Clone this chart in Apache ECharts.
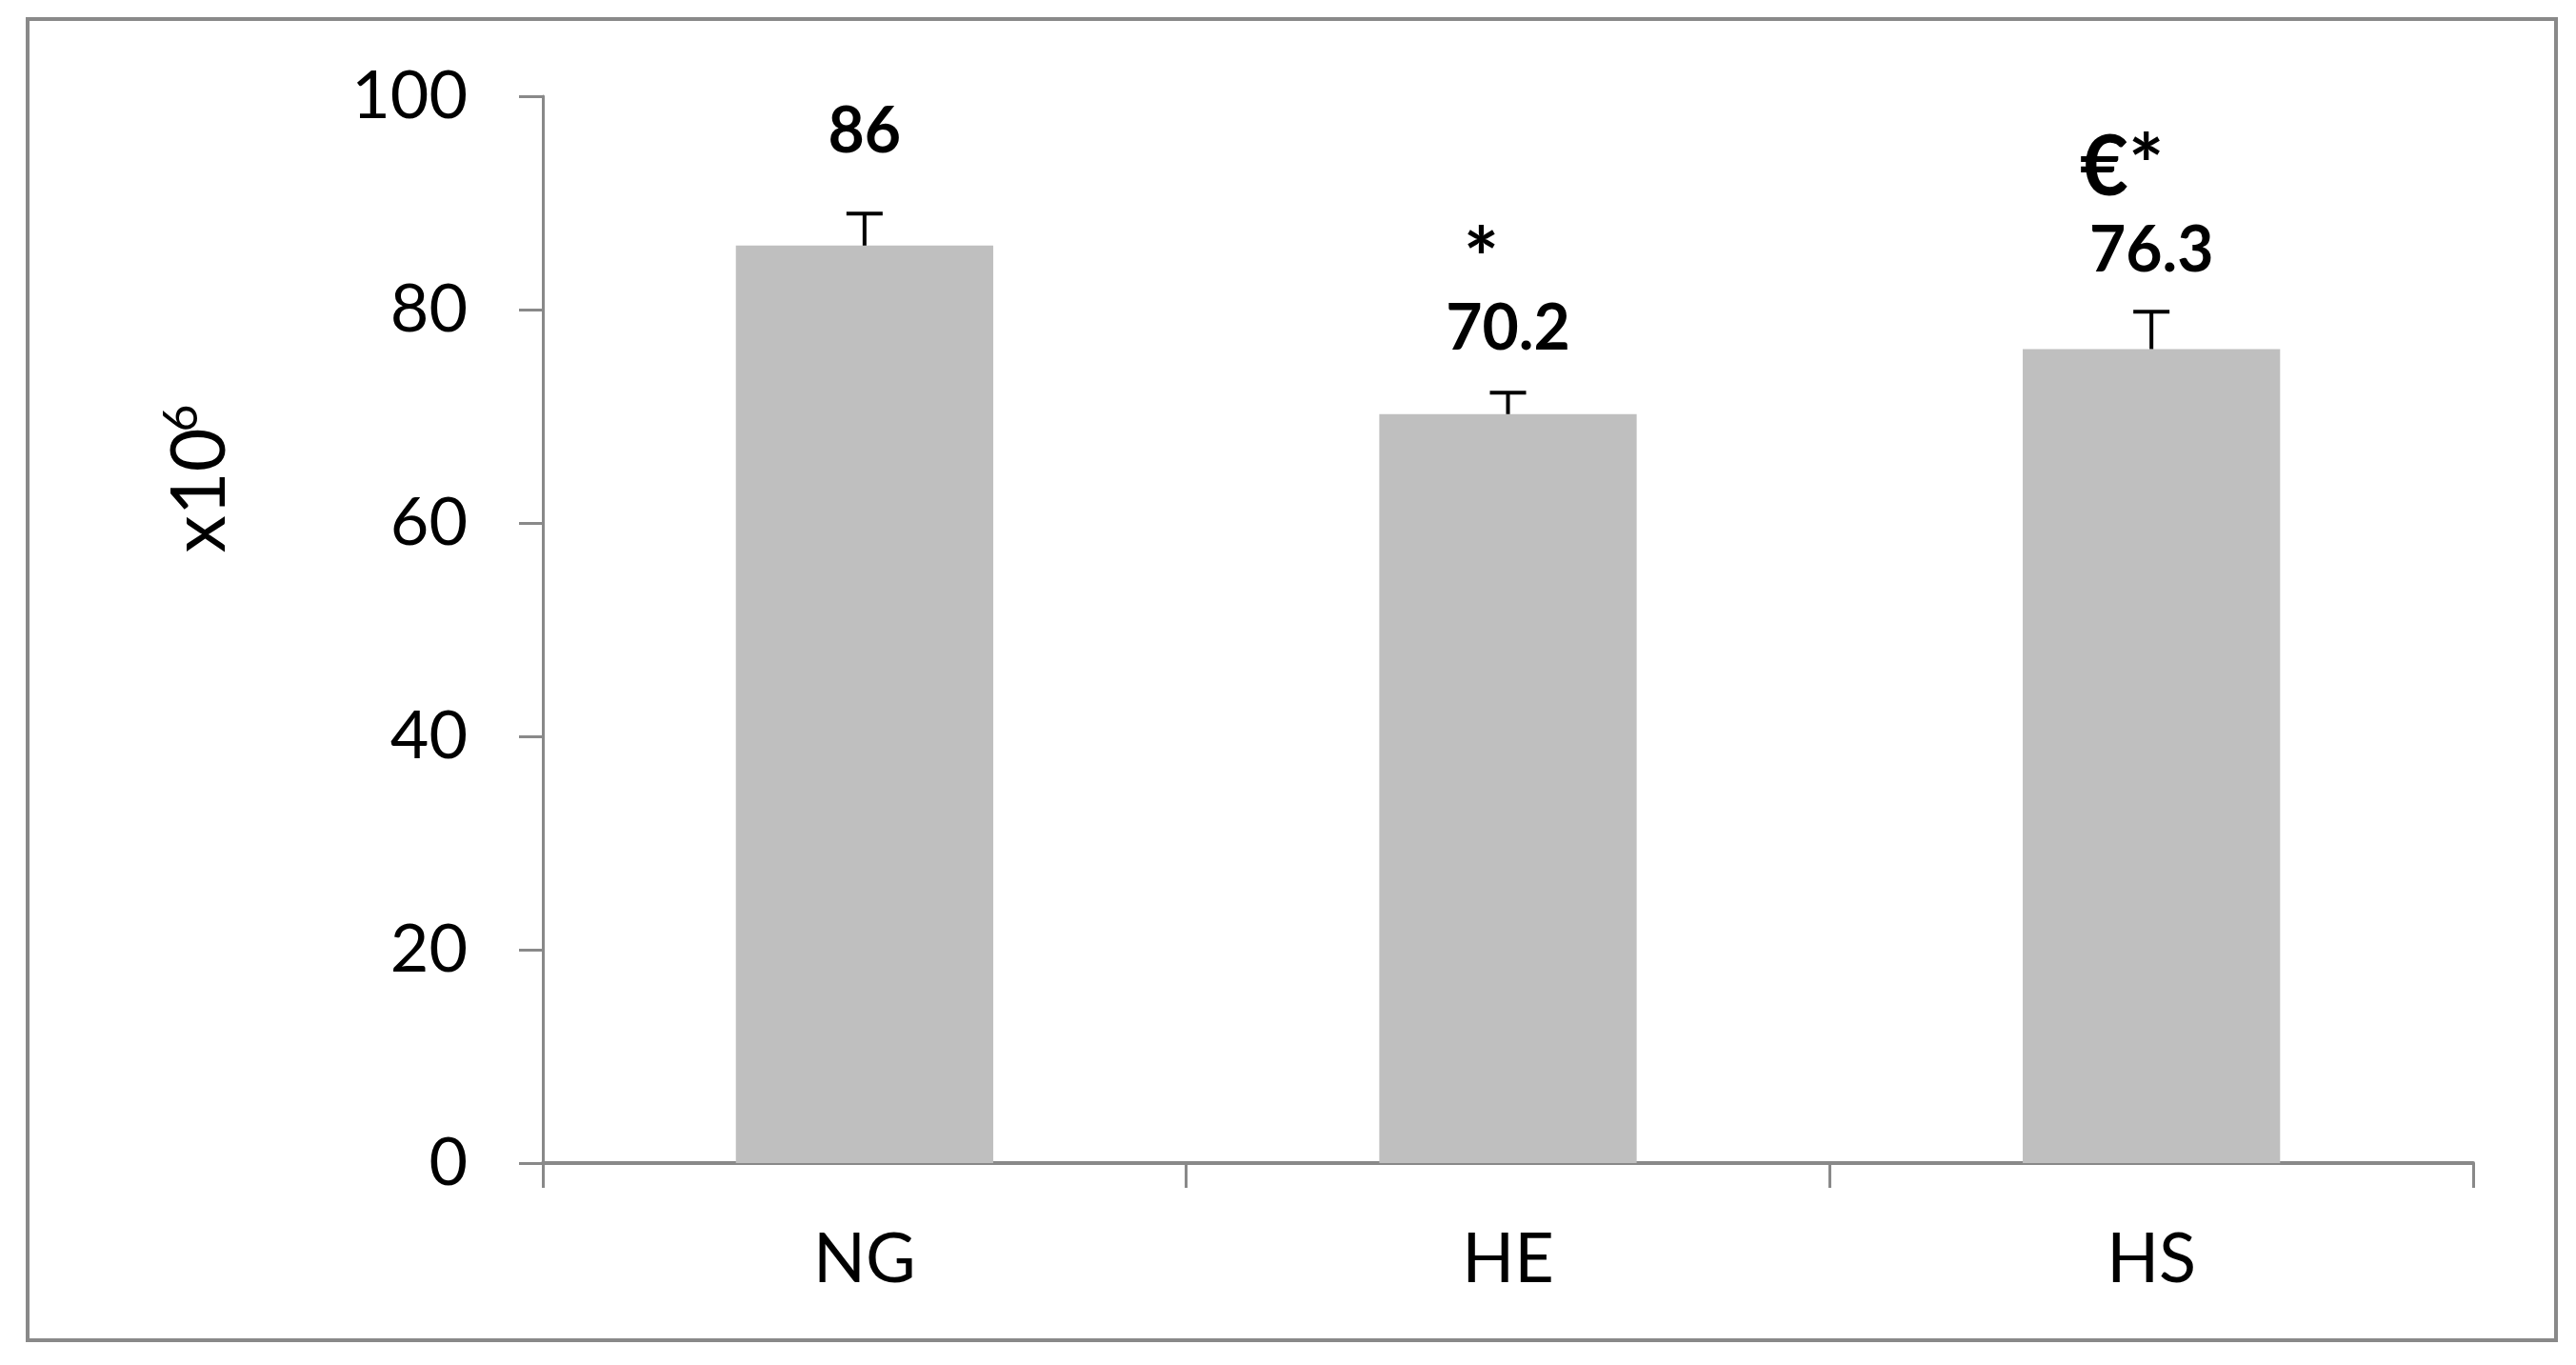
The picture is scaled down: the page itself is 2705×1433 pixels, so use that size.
<!DOCTYPE html>
<html>
<head>
<meta charset="utf-8">
<script src="https://cdn.jsdelivr.net/npm/echarts@6/dist/echarts.min.js"></script>
<style>
  html, body { margin: 0; padding: 0; background: #fff; }
  #chart { width: 2705px; height: 1433px; }
</style>
</head>
<body>
<div id="chart"></div>
<script>
// data
const groups = ['NG', 'HE', 'HS'];
const means = [86, 70.2, 76.3];
const errors = [3.0, 2.0, 3.5];
const marks = ['', '*', '€*'];
const yTicks = [0, 20, 40, 60, 80, 100];

// label placement (px offsets, tuned to the figure)
const valueOffsets = [[0, -86], [0, -56], [0, -70]];
const markOffsets = [[0, 0], [-28, -116], [-31, -146]];
const markSizes = [88, 88, 88];

const grey = '#898989';
const font = 'Lato, "Open Sans", sans-serif';

const chart = echarts.init(document.getElementById('chart'));

chart.setOption({
    animation: false,
    backgroundColor: '#fff',
    grid: { left: 570, right: 108, top: 101, bottom: 212 },
    xAxis: {
        type: 'category',
        data: groups,
        axisLine: { lineStyle: { color: grey, width: 4 } },
        axisTick: { show: true, length: 26, lineStyle: { color: grey, width: 3 } },
        axisLabel: { color: '#000', fontFamily: font, fontSize: 72, margin: 66 }
    },
    yAxis: {
        type: 'value',
        min: yTicks[0],
        max: yTicks[yTicks.length - 1],
        interval: 20,
        splitLine: { show: false },
        axisLine: { show: true, lineStyle: { color: grey, width: 3 } },
        axisTick: { show: true, length: 25, lineStyle: { color: grey, width: 3 } },
        axisLabel: { color: '#000', fontFamily: font, fontSize: 70, margin: 79 }
    },
    graphic: [
        {
            type: 'rect',
            shape: { x: 29, y: 20, width: 2655, height: 1387 },
            style: { fill: 'none', stroke: grey, lineWidth: 4 },
            silent: true
        },
        // y axis title x10^6, written bottom-to-top
        {
            type: 'text',
            x: 211, y: 515,
            rotation: Math.PI / 2,
            style: {
                text: 'x10',
                fontFamily: font, fontSize: 79, fill: '#000',
                align: 'center', verticalAlign: 'middle'
            }
        },
        {
            type: 'text',
            x: 191, y: 439,
            rotation: Math.PI / 2,
            style: {
                text: '6',
                fontFamily: font, fontSize: 50, fill: '#000',
                align: 'center', verticalAlign: 'middle'
            }
        }
    ],
    series: [
        {
            type: 'bar',
            data: means.map((v, i) => ({
                value: v,
                label: { offset: valueOffsets[i] }
            })),
            barCategoryGap: '60%',
            itemStyle: { color: '#BFBFBF' },
            label: {
                show: true,
                position: 'top',
                distance: 0,
                color: '#000',
                fontFamily: font,
                fontWeight: 'bold',
                fontSize: 66,
                lineHeight: 66,
                formatter: p => String(p.value)
            },
            z: 2
        },
        {
            // invisible twin bar, only carries the significance marks
            type: 'bar',
            data: means.map((v, i) => ({
                value: v,
                label: { offset: markOffsets[i], fontSize: markSizes[i], lineHeight: markSizes[i] }
            })),
            barCategoryGap: '60%',
            barGap: '-100%',
            itemStyle: { color: 'rgba(0,0,0,0)' },
            label: {
                show: true,
                position: 'top',
                distance: 0,
                color: '#000',
                fontFamily: font,
                fontWeight: 'bold',
                formatter: p => marks[p.dataIndex]
            },
            silent: true,
            z: 3
        },
        {
            type: 'custom',
            data: means.map((v, i) => [i, v, v + errors[i]]),
            renderItem: (params, api) => {
                const base = api.coord([api.value(0), api.value(1)]);
                const top = api.coord([api.value(0), api.value(2)]);
                const half = 19;
                const st = { stroke: '#000', lineWidth: 4 };
                return {
                    type: 'group',
                    children: [
                        { type: 'line', shape: { x1: base[0], y1: base[1], x2: top[0], y2: top[1] }, style: st },
                        { type: 'line', shape: { x1: top[0] - half, y1: top[1], x2: top[0] + half, y2: top[1] }, style: st }
                    ]
                };
            },
            silent: true,
            z: 4
        }
    ]
});
</script>
</body>
</html>
